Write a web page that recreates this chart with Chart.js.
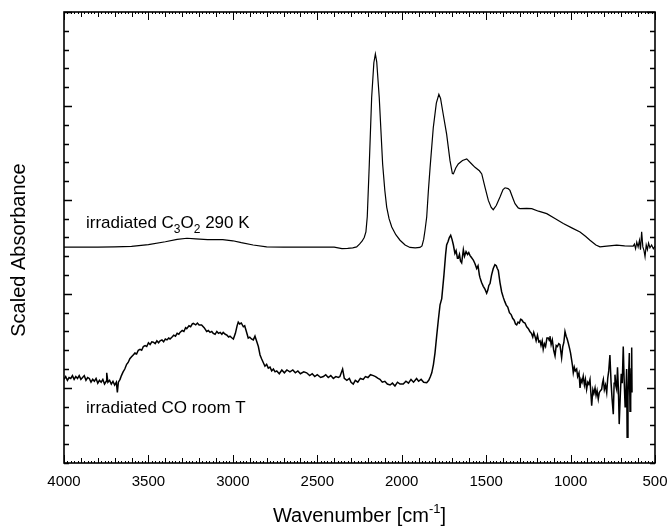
<!DOCTYPE html>
<html>
<head>
<meta charset="utf-8">
<script src="https://cdn.jsdelivr.net/npm/chart.js@4.4.1/dist/chart.umd.min.js"></script>
<style>
html,body{margin:0;padding:0;background:#fff;}
canvas{display:block;}
</style>
</head>
<body>
<canvas id="c" width="670" height="527"></canvas>
<script>
// ---- Data ----
const xTickLabels = ['4000','3500','3000','2500','2000','1500','1000','500'];

const c3o2Wn = [4000,3900,3800,3700,3600,3500,3400,3330,3272,3220,3150,3060,3000,2950,2880,2800,2700,2600,2500,2400,2354,2320,2290,2267,2250,2235,2222,2212,2204,2192,2178,2165,2156,2148,2133,2113,2100,2089,2075,2059,2035,2010,1980,1951,1920,1892,1880,1870,1862,1852,1842,1832,1813,1795,1780,1770,1755,1734,1714,1700,1694,1680,1665,1640,1615,1590,1566,1540,1526,1507,1487,1470,1458,1440,1418,1400,1388,1370,1359,1340,1329,1310,1300,1260,1230,1190,1141,1090,1043,990,944,910,885,850,826,800,727,680,629,622,615,608,600,592,586,579,572,565,559,552,545,538,530,520,510,500];
const c3o2Abs = [1.497,1.497,1.498,1.50,1.505,1.525,1.555,1.58,1.592,1.585,1.578,1.578,1.565,1.545,1.52,1.50,1.497,1.497,1.497,1.497,1.482,1.484,1.49,1.50,1.53,1.56,1.60,1.66,1.82,2.38,3.09,3.46,3.553,3.47,3.088,2.383,2.10,1.924,1.80,1.712,1.63,1.571,1.52,1.494,1.49,1.494,1.51,1.58,1.677,1.818,2.10,2.344,2.77,3.03,3.124,3.08,2.92,2.70,2.418,2.28,2.277,2.34,2.383,2.42,2.436,2.39,2.347,2.31,2.277,2.135,1.995,1.92,1.896,1.94,2.03,2.11,2.129,2.12,2.101,2.01,1.96,1.915,1.907,1.91,1.907,1.88,1.854,1.80,1.748,1.70,1.659,1.61,1.571,1.52,1.501,1.505,1.519,1.51,1.508,1.53,1.48,1.55,1.50,1.57,1.47,1.66,1.50,1.46,1.395,1.52,1.47,1.54,1.49,1.52,1.48,1.51];

const coWn = [4000,3990,3980,3970,3960,3950,3940,3930,3920,3910,3900,3890,3880,3870,3860,3850,3840,3830,3820,3810,3800,3790,3780,3770,3760,3750,3747,3740,3730,3720,3710,3700,3690,3684,3678,3668,3660,3650,3640,3629,3620,3610,3600,3590,3580,3570,3560,3550,3540,3530,3520,3510,3500,3490,3480,3471,3460,3450,3440,3431,3420,3410,3400,3390,3380,3372,3360,3350,3340,3330,3320,3313,3300,3290,3280,3273,3260,3250,3240,3234,3220,3210,3200,3185,3170,3155,3145,3135,3125,3116,3105,3095,3085,3075,3065,3057,3045,3035,3025,3017,3005,2997,2985,2975,2968,2960,2950,2938,2930,2920,2909,2900,2890,2879,2869,2860,2849,2839,2830,2820,2810,2800,2790,2780,2770,2760,2750,2740,2725,2710,2695,2680,2662,2645,2630,2615,2600,2580,2563,2545,2530,2515,2500,2480,2464,2450,2435,2420,2405,2390,2375,2366,2350,2340,2325,2310,2300,2287,2275,2260,2245,2228,2215,2200,2185,2168,2155,2140,2129,2115,2100,2085,2069,2055,2040,2025,2010,1991,1975,1960,1945,1930,1912,1900,1885,1870,1852,1840,1830,1822,1812,1803,1793,1783,1773,1763,1750,1740,1734,1725,1718,1710,1702,1694,1685,1678,1670,1665,1658,1652,1645,1640,1635,1628,1619,1610,1603,1596,1588,1580,1576,1566,1556,1548,1540,1536,1527,1517,1507,1497,1490,1484,1477,1468,1458,1448,1440,1434,1428,1418,1408,1398,1390,1381,1372,1362,1352,1343,1334,1326,1319,1311,1303,1296,1290,1280,1270,1260,1250,1241,1232,1224,1218,1211,1204,1196,1188,1181,1175,1168,1162,1155,1148,1140,1132,1125,1122,1115,1108,1100,1092,1085,1078,1070,1063,1053,1046,1040,1033,1026,1020,1014,1006,1000,994,989,984,978,972,964,958,950,944,938,932,925,918,912,905,898,892,885,880,875,868,862,855,849,843,836,830,823,816,811,806,800,793,786,780,774,767,760,754,747,742,737,732,727,722,717,712,706,700,694,688,683,677,672,668,665,660,656,652,648,644,641,638,636];
const coAbs = [0.09,0.12,0.08,0.11,0.10,0.13,0.09,0.12,0.10,0.13,0.09,0.11,0.13,0.08,0.11,0.10,0.06,0.09,0.07,0.10,0.05,0.08,0.06,0.09,0.04,0.07,0.16,0.06,0.08,0.04,0.07,0.03,0.06,-0.05,0.06,0.09,0.13,0.17,0.20,0.25,0.27,0.31,0.33,0.35,0.37,0.36,0.40,0.41,0.40,0.44,0.45,0.44,0.48,0.46,0.49,0.485,0.47,0.50,0.48,0.50,0.51,0.49,0.52,0.51,0.53,0.52,0.54,0.56,0.55,0.58,0.57,0.59,0.61,0.60,0.64,0.63,0.66,0.65,0.68,0.685,0.67,0.69,0.67,0.67,0.64,0.60,0.61,0.59,0.60,0.58,0.57,0.60,0.58,0.59,0.57,0.59,0.57,0.56,0.54,0.55,0.53,0.52,0.58,0.66,0.70,0.68,0.69,0.65,0.66,0.60,0.53,0.54,0.52,0.51,0.55,0.50,0.44,0.35,0.31,0.27,0.23,0.25,0.21,0.22,0.18,0.20,0.17,0.18,0.15,0.19,0.16,0.19,0.17,0.19,0.16,0.18,0.15,0.17,0.16,0.13,0.15,0.12,0.14,0.11,0.12,0.14,0.11,0.13,0.10,0.12,0.11,0.12,0.20,0.10,0.08,0.10,0.06,0.04,0.08,0.06,0.10,0.09,0.12,0.11,0.14,0.13,0.12,0.10,0.09,0.06,0.07,0.04,0.03,0.05,0.02,0.06,0.04,0.04,0.07,0.05,0.09,0.06,0.10,0.07,0.09,0.06,0.055,0.08,0.12,0.16,0.25,0.37,0.55,0.725,0.884,0.95,1.20,1.42,1.52,1.56,1.60,1.624,1.58,1.52,1.43,1.46,1.38,1.38,1.42,1.35,1.33,1.40,1.47,1.40,1.45,1.42,1.44,1.41,1.39,1.37,1.36,1.32,1.27,1.30,1.20,1.17,1.12,1.08,1.05,1.007,1.04,1.09,1.11,1.20,1.27,1.31,1.30,1.27,1.25,1.12,1.02,0.96,0.92,0.88,0.86,0.80,0.78,0.74,0.72,0.68,0.67,0.70,0.69,0.73,0.725,0.70,0.69,0.65,0.63,0.60,0.58,0.54,0.59,0.55,0.50,0.56,0.49,0.50,0.45,0.50,0.41,0.47,0.44,0.53,0.53,0.50,0.55,0.46,0.51,0.40,0.34,0.45,0.44,0.47,0.46,0.32,0.44,0.48,0.60,0.55,0.52,0.48,0.42,0.37,0.30,0.24,0.16,0.22,0.18,0.20,0.12,0.16,0.00,0.09,0.06,0.125,0.03,0.09,-0.016,0.06,0.04,0.09,-0.05,-0.19,-0.02,-0.06,0.00,-0.08,-0.03,-0.12,-0.05,-0.03,-0.016,0.05,0.09,-0.02,0.03,-0.05,0.10,0.18,0.35,0.05,-0.12,-0.28,0.05,0.14,0.02,-0.016,0.22,0.00,-0.386,-0.10,0.15,0.05,0.44,0.10,-0.20,-0.05,0.20,-0.527,-0.10,0.15,0.37,-0.25,-0.12,0.20,0.43,-0.05];

const labelC3O2 = [{t:'irradiated C'},{t:'3',sub:true},{t:'O'},{t:'2',sub:true},{t:' 290 K'}];
const labelCO = [{t:'irradiated CO room T'}];

// ---- helpers ----
const FONT = '"Liberation Sans", Arial, Helvetica, sans-serif';
function toPoints(xs, ys){ return xs.map((x,i)=>({x:x, y:ys[i]})); }

function drawRich(ctx, parts, x, y, size){
  let cx = x;
  ctx.textAlign = 'left';
  ctx.textBaseline = 'alphabetic';
  for (const p of parts){
    let fs = size, dy = 0;
    if (p.sub){ fs = Math.round(size*0.7); dy = size*0.3; }
    if (p.sup){ fs = Math.round(size*0.65); dy = -size*0.45; }
    ctx.font = fs + 'px ' + FONT;
    ctx.fillText(p.t, cx, y + dy);
    cx += ctx.measureText(p.t).width;
  }
  return cx - x;
}
function richWidth(ctx, parts, size){
  let w = 0;
  for (const p of parts){
    let fs = size;
    if (p.sub) fs = Math.round(size*0.7);
    if (p.sup) fs = Math.round(size*0.65);
    ctx.font = fs + 'px ' + FONT;
    w += ctx.measureText(p.t).width;
  }
  return w;
}

const framePlugin = {
  id: 'frameTicks',
  afterDatasetsDraw(chart){
    const ctx = chart.ctx;
    const xs = chart.scales.x, ys = chart.scales.y;
    const a = chart.chartArea;
    ctx.save();
    ctx.strokeStyle = '#000';
    // ticks on x (bottom & top), pointing inward
    ctx.lineWidth = 1;
    for (let v = 500; v <= 4000; v += 20){
      const px = Math.round(xs.getPixelForValue(v)) + 0.5;
      const len = (v % 500 === 0) ? 8 : (v % 100 === 0) ? 5 : 2;
      ctx.beginPath();
      ctx.moveTo(px, a.bottom); ctx.lineTo(px, a.bottom - len);
      ctx.moveTo(px, a.top); ctx.lineTo(px, a.top + len);
      ctx.stroke();
    }
    // ticks on y (left & right)
    ctx.lineWidth = 1.3;
    for (let k = -4; k <= 20; k++){
      const v = k * 0.2;
      const py = Math.round(ys.getPixelForValue(v)) + 0.5;
      const len = (k % 5 === 0) ? 8 : 5;
      ctx.beginPath();
      ctx.moveTo(a.left, py); ctx.lineTo(a.left + len, py);
      ctx.moveTo(a.right, py); ctx.lineTo(a.right - len, py);
      ctx.stroke();
    }
    // frame
    ctx.lineWidth = 1.6;
    ctx.strokeRect(a.left, a.top, a.right - a.left, a.bottom - a.top);

    // in-plot labels
    ctx.fillStyle = '#000';
    drawRich(ctx, labelC3O2, 86, 228, 17);
    drawRich(ctx, labelCO, 86, 413, 17);

    // axis titles
    const xt = [{t:'Wavenumber [cm'},{t:'-1',sup:true},{t:']'}];
    const w = richWidth(ctx, xt, 20);
    drawRich(ctx, xt, (a.left + a.right)/2 - w/2, 522, 20);

    ctx.translate(19, 250);
    ctx.rotate(-Math.PI/2);
    ctx.font = '20px ' + FONT;
    ctx.textAlign = 'center';
    ctx.textBaseline = 'middle';
    ctx.fillText('Scaled Absorbance', 0, 0);
    ctx.restore();
  }
};

new Chart(document.getElementById('c'), {
  type: 'line',
  data: {
    datasets: [
      { label: 'irradiated C3O2 290 K', data: toPoints(c3o2Wn, c3o2Abs),
        borderColor: '#000', borderWidth: 1.2, pointRadius: 0, tension: 0, fill: false },
      { label: 'irradiated CO room T', data: toPoints(coWn, coAbs),
        borderColor: '#000', borderWidth: 1.5, pointRadius: 0, tension: 0, fill: false }
    ]
  },
  options: {
    responsive: false,
    animation: false,
    devicePixelRatio: 1,
    layout: { padding: { top: 12, right: 15, left: 0, bottom: 0 } },
    plugins: { legend: { display: false }, tooltip: { enabled: false } },
    scales: {
      x: {
        type: 'linear', reverse: true, min: 500, max: 4000,
        grid: { display: false, drawTicks: false },
        border: { display: false },
        ticks: {
          stepSize: 500, padding: 10, color: '#000',
          font: { size: 15, family: FONT },
          maxRotation: 0,
          callback: function(v){ const i = (4000 - v)/500; return xTickLabels[i] !== undefined ? xTickLabels[i] : ''; }
        },
        afterFit: function(s){ s.height = 64; s.paddingLeft = 0; s.paddingRight = 0; }
      },
      y: {
        type: 'linear', min: -0.8, max: 4.0,
        grid: { display: false, drawTicks: false },
        border: { display: false },
        ticks: { display: false },
        afterFit: function(s){ s.width = 64; s.paddingTop = 0; s.paddingBottom = 0; }
      }
    }
  },
  plugins: [framePlugin]
});
</script>
</body>
</html>
